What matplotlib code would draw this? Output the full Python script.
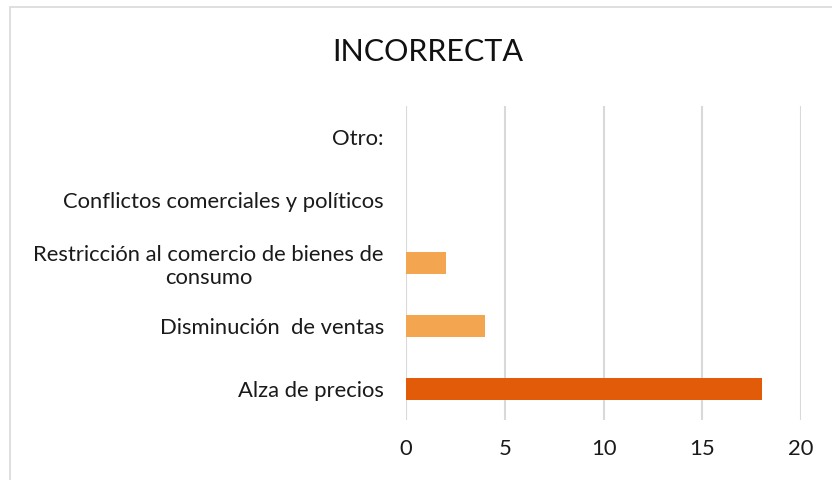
import matplotlib.pyplot as plt
from matplotlib.patches import Rectangle

# data (bottom to top)
categories = ["Alza de precios", "Disminución  de ventas",
              "Restricción al comercio de bienes de\nconsumo",
              "Conflictos comerciales y políticos", "Otro:"]
values = [18, 4, 2, 0, 0]
colors = ["#E15B09", "#F3A54F", "#F3A54F", "#F3A54F", "#F3A54F"]
xticks = [0, 5, 10, 15, 20]
title = "INCORRECTA"

plt.rcParams['font.family'] = ['Lato', 'DejaVu Sans']

W, H = 832, 480
fig = plt.figure(figsize=(W / 100, H / 100), dpi=100)
ax = fig.add_axes([406 / W, 1 - 420 / H, (801 - 406) / W, (420 - 106) / H])

ypos = list(range(len(categories)))
ax.barh(ypos, values, height=0.35, color=colors)

ax.set_xlim(0, 20)
ax.set_ylim(-0.5, len(categories) - 0.5)
ax.set_xticks(xticks)
ax.set_yticks(ypos)
ax.set_yticklabels(categories)
for lab in ax.get_yticklabels():
    lab.set_multialignment('center')

ax.tick_params(axis='y', length=0, pad=16, labelsize=15.8, colors='#1a1a1a')
ax.tick_params(axis='x', length=0, pad=14, labelsize=15.8, colors='#1a1a1a')
ax.grid(axis='x', color='#D9D9D9', linewidth=1.5)
ax.set_axisbelow(True)
for s in ax.spines.values():
    s.set_visible(False)

fig.text(428 / W, 1 - 52 / H, title, ha='center', va='center', fontsize=22,
         color='#111111')

# chart border
fig.patches.append(Rectangle((10 / W, -0.1), 1.1, 1 - 7 / H + 0.1, transform=fig.transFigure,
                             fill=False, edgecolor='#D9D9D9', linewidth=1.2))

fig.savefig("out.png", dpi=100)
